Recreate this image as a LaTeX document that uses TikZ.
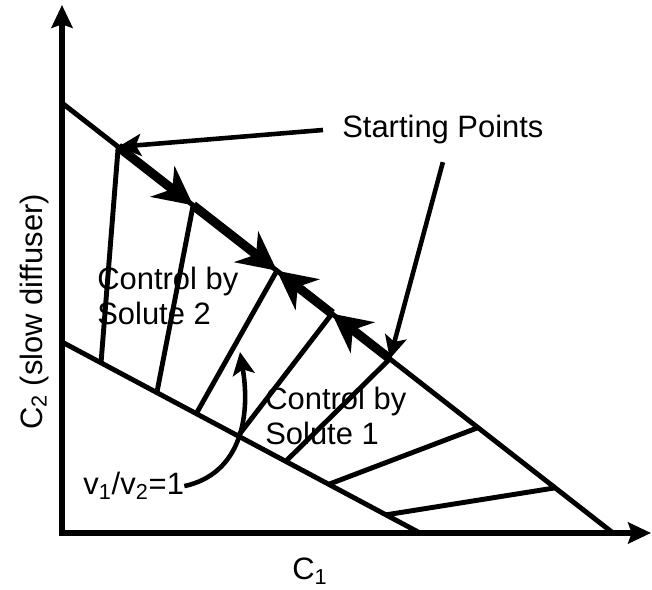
\documentclass[tikz,border=0pt]{standalone}
\usepackage{fontspec}
\setmainfont{Liberation Sans}
\usepackage{tikz}
\usetikzlibrary{calc, arrows.meta}
\tikzset{every node/.append style={font=\fontsize{17.6}{19.6}\selectfont, inner sep=0pt}}

\begin{document}
\begin{tikzpicture}[x=0.02cm, y=-0.02cm,
    axis/.style={line width=3.4pt},
    edge/.style={line width=2.8pt},
    flow/.style={line width=5.2pt, -{Stealth[length=22pt, width=22pt, inset=7pt]}},
    pointer/.style={line width=2.6pt, -{Stealth[length=13pt, width=12.5pt, inset=3pt]}}]
    \useasboundingbox (0,0) rectangle (652,590);
    % axes
    \coordinate (O) at (62,533);
    \coordinate (Ytop) at (62,5);
    \coordinate (Xend) at (651,533);
    \draw[axis, {Stealth[length=13pt, width=12pt, inset=2pt]}-{Stealth[length=13pt, width=12pt, inset=2pt]}] (Ytop) -- (O) -- (Xend);
    \node[rotate=90, anchor=base] (ylab) at (42,312) {C\textsubscript{2} (slow diffuser)};
    \node[anchor=base west] (xlab) at (292,580) {C\textsubscript{1}};
    % upper and lower boundary lines
    \coordinate (U0) at (62,103);
    \coordinate (U1) at (613,533);
    \coordinate (L0) at (62,342);
    \coordinate (L1) at (420,533);
    \draw[edge] (U0) -- (U1);
    \draw[edge] (L0) -- (L1);
    % tie line ends on both lines
    \coordinate (T1) at ($(U0)!0.102!(U1)$);
    \coordinate (T2) at ($(U0)!0.238!(U1)$);
    \coordinate (T3) at ($(U0)!0.390!(U1)$);
    \coordinate (T4) at ($(U0)!0.490!(U1)$);
    \coordinate (T5) at ($(U0)!0.595!(U1)$);
    \coordinate (T6) at ($(U0)!0.755!(U1)$);
    \coordinate (T7) at ($(U0)!0.895!(U1)$);
    \coordinate (B1) at ($(L0)!0.109!(L1)$);
    \coordinate (B2) at ($(L0)!0.265!(L1)$);
    \coordinate (B3) at ($(L0)!0.375!(L1)$);
    \coordinate (B4) at ($(L0)!0.492!(L1)$);
    \coordinate (B5) at ($(L0)!0.625!(L1)$);
    \coordinate (B6) at ($(L0)!0.745!(L1)$);
    \coordinate (B7) at ($(L0)!0.905!(L1)$);
    \foreach \i in {1,...,7}
        \draw[edge] (T\i) -- (B\i);
    % paths from the two starting points
    \draw[flow] (T1) -- (T2);
    \draw[flow] (T2) -- (T3);
    \draw[flow] (T5) -- (T4);
    \draw[flow] (T4) -- (T3);
    % labels
    \node[anchor=base west, inner xsep=10.8pt, inner ysep=9.9pt] (start) at (323,138) {Starting Points};
    \draw[pointer] (start.west) -- (T1);
    \draw[pointer] (start.south) -- (T5);
    \node[anchor=north west, align=left] (ctrl2) at (97,267) {Control by\\Solute 2};
    \node[anchor=north west, align=left] (ctrl1) at (265,387) {Control by\\Solute 1};
    \node[anchor=base west] (ratio) at (83,495) {v\textsubscript{1}/v\textsubscript{2}=1};
    \draw[pointer] (ratio.east) .. controls (240,474) and (251,418) .. (240,352);
\end{tikzpicture}
\end{document}
